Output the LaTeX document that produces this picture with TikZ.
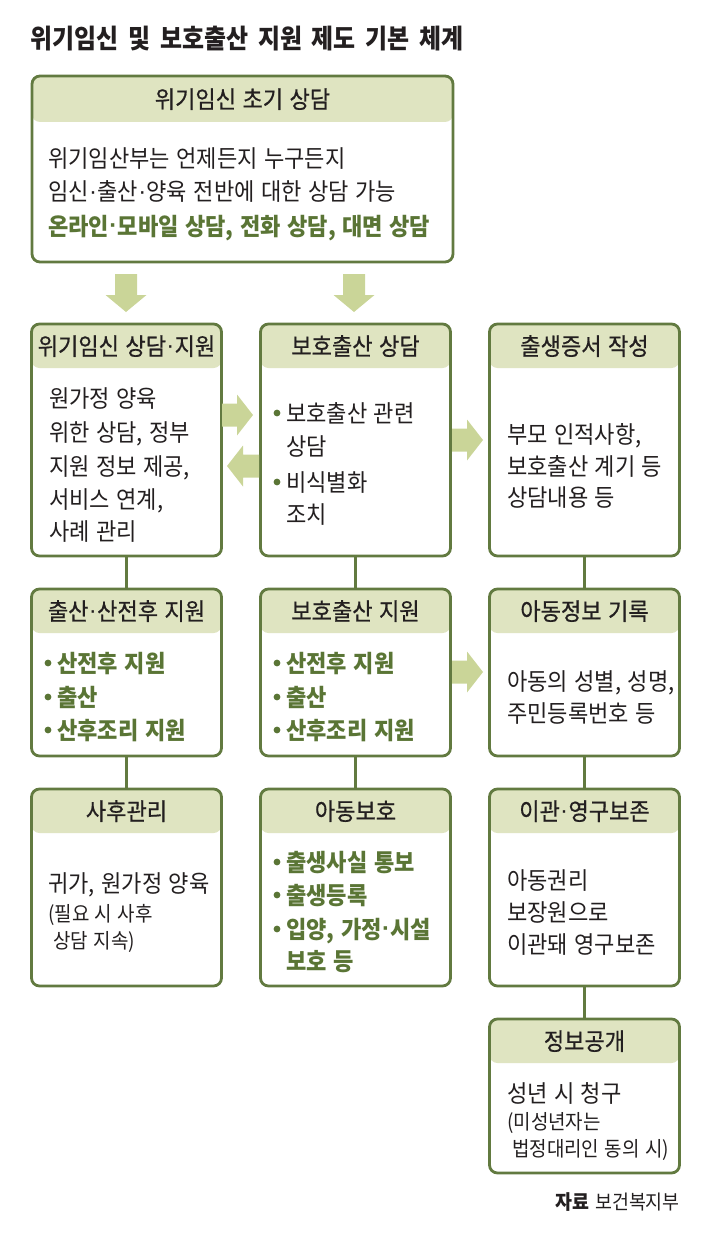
\documentclass[tikz,border=0pt]{standalone}
\usepackage{fontspec}
\setmainfont{Noto Sans CJK KR}[FakeStretch=0.92,WordSpace=1.3]
\newfontfamily\krmed{Noto Sans CJK KR}[FakeStretch=0.92,WordSpace=1.3,FakeBold=0.6]
\newfontfamily\krtitle{Noto Sans CJK KR}[FakeStretch=0.9,WordSpace=1.8]
\newfontfamily\lat{Liberation Sans}
\newcommand\md{{\lat\kern0.3pt\raisebox{1.6pt}{·}\kern0.3pt}}
\definecolor{bord}{HTML}{627A40}
\definecolor{hdr}{HTML}{DFE4C1}
\definecolor{arr}{HTML}{CAD598}
\definecolor{grn}{HTML}{5A7535}
\definecolor{ink}{HTML}{231F20}
\newcounter{ln}
\newcommand\tl[3][]{\stepcounter{ln}\node[txt,#1] (ln\arabic{ln}) at (#2) {#3};}
\newcommand\bu[1]{\fill[grn] (#1) circle (3.4pt);}
\newcommand\rarr[2]{\fill[arr] (#1,#2-11.5) -- (#1+15,#2-11.5) -- (#1+15,#2-20.5) -- (#1+31,#2) -- (#1+15,#2+20.5) -- (#1+15,#2+11.5) -- (#1,#2+11.5) -- cycle;}
\newcommand\larr[2]{\fill[arr] (#1,#2-11.5) -- (#1-16,#2-11.5) -- (#1-16,#2-20.5) -- (#1-32,#2) -- (#1-16,#2+20.5) -- (#1-16,#2+11.5) -- (#1,#2+11.5) -- cycle;}
\newcommand\darr[2]{\fill[arr] (#1-11,#2) -- (#1-11,#2+21) -- (#1-20.5,#2+21) -- (#1,#2+38) -- (#1+20.5,#2+21) -- (#1+11,#2+21) -- (#1+11,#2) -- cycle;}
\begin{document}
\begin{tikzpicture}[x=1pt,y=-1pt,
  box/.style={draw=bord, line width=2.8pt, rounded corners=8pt, fill=white, inner sep=0pt,
    path picture={\fill[hdr] (path picture bounding box.north west) rectangle ([yshift=-#1pt]path picture bounding box.north east);}},
  txt/.style={anchor=base west, inner sep=0pt, font=\fontsize{24}{24}\selectfont, text=ink, yshift=-9.1pt},
  gtxt/.style={font=\fontsize{24}{24}\selectfont\bfseries, text=grn},
  small/.style={font=\fontsize{20.6}{20.6}\selectfont, yshift=1.3pt},
  hd/.style={anchor=base, font=\krmed\fontsize{24}{24}\selectfont},
  conn/.style={draw=bord, line width=3.6pt}]
\path[use as bounding box] (0,0) rectangle (711,1236);
% title
\tl[anchor=base west, font=\krtitle\bfseries\fontsize{26.6}{26.6}\selectfont, yshift=-1.1pt]{30,38.5}{위기임신 및 보호출산 지원 제도 기본 체계}
% boxes
\node[box=46, minimum width=421pt, minimum height=186pt] (b0) at (242.5,169) {};
\node[box=44, minimum width=190pt, minimum height=232pt] (b1) at (126.5,440) {};
\node[box=44, minimum width=190pt, minimum height=232pt] (b2) at (355.5,440) {};
\node[box=44, minimum width=190pt, minimum height=232pt] (b3) at (584.5,440) {};
\node[box=44, minimum width=190pt, minimum height=167pt] (b4) at (126.5,672.5) {};
\node[box=44, minimum width=190pt, minimum height=167pt] (b5) at (355.5,672.5) {};
\node[box=44, minimum width=190pt, minimum height=167pt] (b6) at (584.5,672.5) {};
\node[box=44, minimum width=190pt, minimum height=197pt] (b7) at (126.5,887.5) {};
\node[box=44, minimum width=190pt, minimum height=197pt] (b8) at (355.5,887.5) {};
\node[box=44, minimum width=190pt, minimum height=197pt] (b9) at (584.5,887.5) {};
\node[box=44, minimum width=190pt, minimum height=154pt] (b10) at (584.5,1096) {};
% connectors
\draw[conn] (b1.south) -- (b4.north);
\draw[conn] (b4.south) -- (b7.north);
\draw[conn] (b2.south) -- (b5.north);
\draw[conn] (b5.south) -- (b8.north);
\draw[conn] (b3.south) -- (b6.north);
\draw[conn] (b6.south) -- (b9.north);
\draw[conn] (b9.south) -- (b10.north);
% block arrows
\darr{126}{274}
\darr{354}{274}
\rarr{222}{415}
\larr{259}{466}
\rarr{452}{440}
\rarr{452}{672}
% headers
\tl[hd]{242.5,99}{위기임신 초기 상담}
\tl[hd]{126.5,346}{위기임신 상담\md 지원}
\tl[hd]{355.5,346}{보호출산 상담}
\tl[hd]{584.5,346}{출생증서 작성}
\tl[hd]{126.5,611}{출산\md 산전후 지원}
\tl[hd]{355.5,611}{보호출산 지원}
\tl[hd]{584.5,611}{아동정보 기록}
\tl[hd]{126.5,811}{사후관리}
\tl[hd]{355.5,811}{아동보호}
\tl[hd]{584.5,811}{이관\md 영구보존}
\tl[hd]{584.5,1041}{정보공개}
% top box
\tl{48,158}{위기임산부는 언제든지 누구든지}
\tl{48,191.5}{임신\md 출산\md 양육 전반에 대한 상담 가능}
\tl[gtxt]{48,226}{온라인\md 모바일 상담, 전화 상담, 대면 상담}
% row 1
\tl{49,398}{원가정 양육}
\tl{49,432}{위한 상담, 정부}
\tl{49,466}{지원 정보 제공,}
\tl{49,499}{서비스 연계,}
\tl{49,531}{사례 관리}
\bu{277,413}\tl{286,413}{보호출산 관련}
\tl{286,446}{상담}
\bu{277,482}\tl{286,482}{비식별화}
\tl{286,514}{조치}
\tl{507,434}{부모 인적사항,}
\tl{507,466}{보호출산 계기 등}
\tl{507,497}{상담내용 등}
% row 2
\bu{48,663}\tl[gtxt]{57,663}{산전후 지원}
\bu{48,697}\tl[gtxt]{57,697}{출산}
\bu{48,730}\tl[gtxt]{57,730}{산후조리 지원}
\bu{277,663}\tl[gtxt]{286,663}{산전후 지원}
\bu{277,697}\tl[gtxt]{286,697}{출산}
\bu{277,730}\tl[gtxt]{286,730}{산후조리 지원}
\tl{507,681}{아동의 성별, 성명,}
\tl{507,713}{주민등록번호 등}
% row 3
\tl{48,883}{귀가, 원가정 양육}
\tl[small]{48,914}{(필요 시 사후}
\tl[small]{53,941}{상담 지속)}
\bu{277,862}\tl[gtxt]{286,862}{출생사실 통보}
\bu{277,895}\tl[gtxt]{286,895}{출생등록}
\bu{277,929}\tl[gtxt]{286,929}{입양, 가정\md 시설}
\tl[gtxt]{286,961}{보호 등}
\tl{507,880}{아동권리}
\tl{507,912}{보장원으로}
\tl{507,944}{이관돼 영구보존}
% row 4
\tl{507,1093}{성년 시 청구}
\tl[small]{507,1122}{(미성년자는}
\tl[small]{512,1149}{법정대리인 동의 시)}
% footer
\tl[anchor=base east, font=\fontsize{20}{20}\selectfont, yshift=1.2pt]{680,1202}{{\bfseries 자료} 보건복지부}
\end{tikzpicture}
\end{document}
